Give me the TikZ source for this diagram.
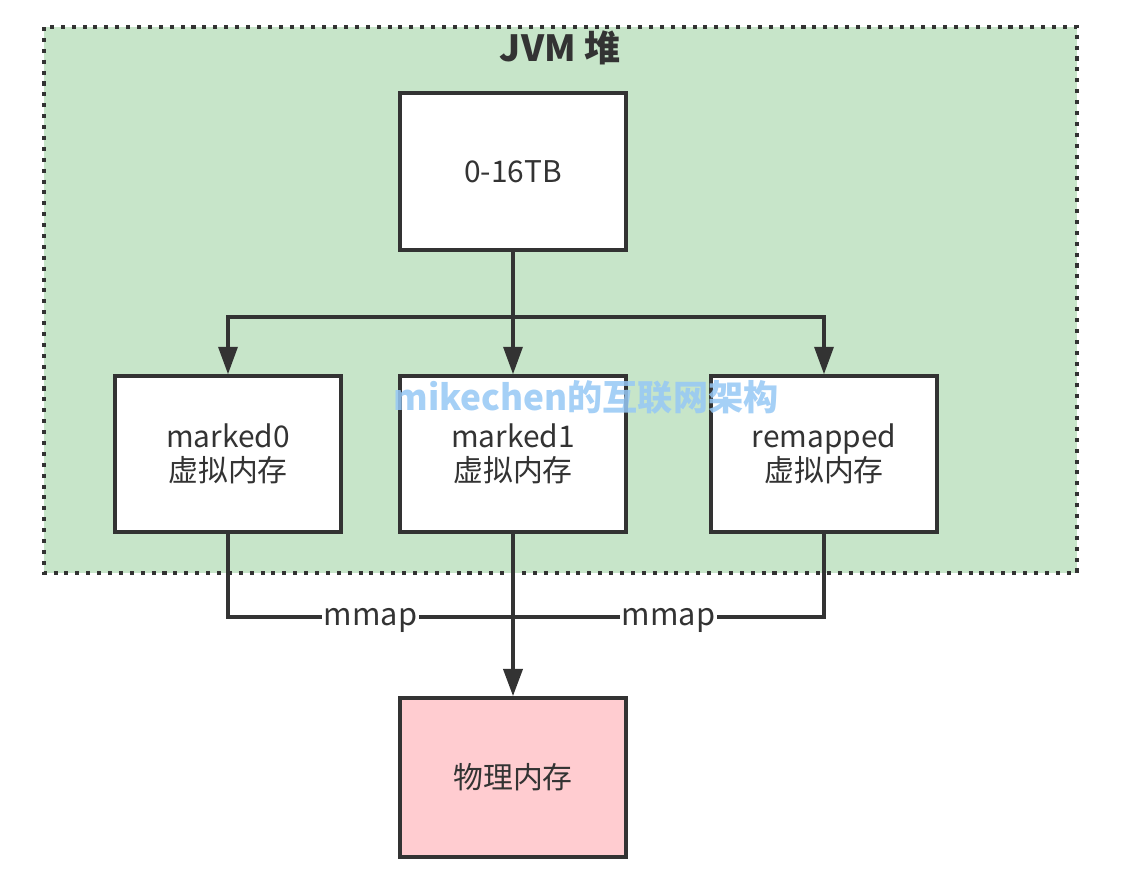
\documentclass[tikz,border=0pt]{standalone}
\usepackage{fontspec}
\setmainfont{Noto Sans CJK SC}
\usepackage{tikz}
\usetikzlibrary{arrows.meta}
\definecolor{heapgreen}{RGB}{199,229,201}
\definecolor{physpink}{RGB}{255,204,208}
\definecolor{linegray}{RGB}{51,51,51}
\definecolor{markblue}{RGB}{150,200,245}
\tikzset{
  membox/.style={draw=linegray,fill=white,line width=2pt,minimum width=4.52cm,
    minimum height=3.12cm,align=center,text=linegray,font=\fontsize{17}{21}\selectfont},
  link/.style={draw=linegray,line width=2pt},
  thin link/.style={draw=linegray,line width=1.8pt},
  maplabel/.style={fill=white,inner sep=1pt,text=linegray,yshift=-0.06cm,
    font=\fontsize{17.5}{20}\selectfont},
  tip/.style={-{Triangle[length=0.55cm,width=0.38cm]}}
}
\begin{document}
\begin{tikzpicture}[x=0.02cm,y=-0.02cm]
\useasboundingbox (0,0) rectangle (1123,883);
% heap
\draw[fill=heapgreen,draw=linegray,line width=2.3pt,dash pattern=on 2.3pt off 3.9pt]
  (44,27) rectangle (1077,573);
\node (title) at (560,48) {\fontsize{20.5}{24}\selectfont\bfseries\color{linegray}JVM 堆};
% boxes
\node[membox,minimum height=3.14cm] (top) at (513,171.5) {0-16TB};
\node[membox] (m0) at (228,454) {marked0\\[-2pt]虚拟内存};
\node[membox] (m1) at (513,454) {marked1\\[-2pt]虚拟内存};
\node[membox] (rm) at (824,454) {remapped\\[-2pt]虚拟内存};
\node[membox,fill=physpink,minimum height=3.18cm] (phys) at (513,777.5) {物理内存};
% watermark
\node[text=markblue,opacity=0.85,font=\fontsize{20}{24}\selectfont\bfseries] (mark) at (586,397) {mikechen的互联网架构};
% top to virtual
\coordinate (fork) at (513,317);
\coordinate (join) at (513,617);
\draw[link] (top.south) -- (fork);
\draw[link,tip] (fork) -| (m0.north);
\draw[link,tip] (fork) -- (m1.north);
\draw[link,tip] (fork) -| (rm.north);
% mmap
\draw[thin link] (m0.south) |- node[pos=0.75,maplabel] {mmap} (join);
\draw[thin link] (rm.south) |- node[pos=0.75,maplabel] {mmap} (join);
\draw[link,line width=2.4pt,tip] (m1.south) -- (phys.north);
\end{tikzpicture}
\end{document}
